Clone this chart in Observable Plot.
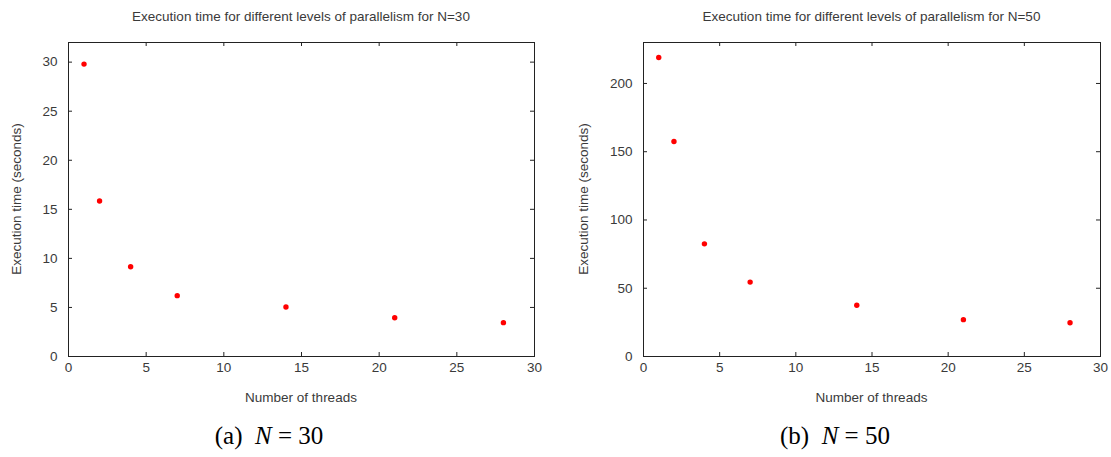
<!DOCTYPE html>
<html>
<head>
<meta charset="utf-8">
<script src="https://cdn.jsdelivr.net/npm/d3@7"></script>
<script src="https://cdn.jsdelivr.net/npm/@observablehq/plot@0.6"></script>
<style>
  html, body { margin: 0; padding: 0; background: #fff; }
  #root { position: relative; width: 1111px; height: 457px; overflow: hidden; font-family: "Liberation Sans", Arial, sans-serif; color: #3a3a3a; }
  .abs { position: absolute; white-space: nowrap; }
  .title, .xlab { font-size: 13.5px; transform: translate(-50%, -50%); }
  .ylab { font-size: 13.5px; transform: translate(-50%, -50%) rotate(-90deg); }
  .cap { font-family: "Liberation Serif", "DejaVu Serif", serif; font-size: 25px; color: #000; transform: translate(-50%, -50%); }
  .cap i { font-style: italic; }
  svg { position: absolute; top: 0; }
</style>
</head>
<body>
<div id="root"></div>
<script>
// ---- data ----
const threads = [1, 2, 4, 7, 14, 21, 28];
const timesN30 = [29.8, 15.85, 9.15, 6.2, 5.05, 3.95, 3.45];
const timesN50 = [219, 157.5, 82.5, 54.5, 37.5, 27, 24.7];
const xTicks = [0, 5, 10, 15, 20, 25, 30];
const yTicksN30 = [0, 5, 10, 15, 20, 25, 30];
const yTicksN50 = [0, 50, 100, 150, 200];

const titles = ["Execution time for different levels of parallelism for N=30",
                "Execution time for different levels of parallelism for N=50"];
const xLabel = "Number of threads";
const yLabel = "Execution time (seconds)";

const root = document.getElementById("root");

function panel({left, width, marginLeft, marginRight, times, yMax, yTicks, title, caption, captionX, yLabelOffset}) {
  const height = 400, marginTop = 42, marginBottom = 44;
  const fw = width - marginLeft - marginRight;
  const fh = height - marginTop - marginBottom;
  const data = threads.map((t, i) => ({t, v: times[i]}));
  const tick = 4;
  const chart = Plot.plot({
    width, height, marginLeft, marginRight, marginTop, marginBottom,
    style: {color: "#3a3a3a", fontFamily: "'Liberation Sans', Arial, sans-serif", fontSize: "13.5px", background: "transparent"},
    x: {domain: [0, 30]},
    y: {domain: [0, yMax]},
    marks: [
      Plot.axisX(xTicks, {tickSize: 0, tickPadding: 6, label: null, fontSize: 13.5}),
      Plot.axisY(yTicks, {tickSize: 0, tickPadding: 11, label: null, fontSize: 13.5}),
      Plot.tickX(xTicks, {x: d => d, insetTop: fh - tick, stroke: "#222"}),
      Plot.tickX(xTicks, {x: d => d, insetBottom: fh - tick, stroke: "#222"}),
      Plot.tickY(yTicks, {y: d => d, insetRight: fw - tick, stroke: "#222"}),
      Plot.tickY(yTicks, {y: d => d, insetLeft: fw - tick, stroke: "#222"}),
      Plot.frame({stroke: "#222"}),
      Plot.dot(data, {x: "t", y: "v", r: 2.7, fill: "#ff0000", stroke: null})
    ]
  });
  chart.style.left = left + "px";
  root.appendChild(chart);
  const cx = left + marginLeft + fw / 2;
  const t = document.createElement("div");
  t.className = "abs title"; t.style.left = cx + "px"; t.style.top = "16px"; t.textContent = title;
  root.appendChild(t);
  const xl = document.createElement("div");
  xl.className = "abs xlab"; xl.style.left = cx + "px"; xl.style.top = "397px"; xl.textContent = xLabel;
  root.appendChild(xl);
  const yl = document.createElement("div");
  yl.className = "abs ylab"; yl.style.left = (left + marginLeft - yLabelOffset) + "px"; yl.style.top = (marginTop + fh / 2) + "px"; yl.textContent = yLabel;
  root.appendChild(yl);
  const c = document.createElement("div");
  c.className = "abs cap"; c.style.left = captionX + "px"; c.style.top = "436px";
  c.innerHTML = caption;
  root.appendChild(c);
}

panel({left: 0, width: 555, marginLeft: 68, marginRight: 21, times: timesN30, yMax: 32, yTicks: yTicksN30,
       title: titles[0], caption: "(a)&nbsp;&nbsp;<i>N</i> = 30", captionX: 269, yLabelOffset: 52});
panel({left: 555, width: 556, marginLeft: 88, marginRight: 11, times: timesN50, yMax: 230, yTicks: yTicksN50,
       title: titles[1], caption: "(b)&nbsp;&nbsp;<i>N</i> = 50", captionX: 835, yLabelOffset: 60});
</script>
</body>
</html>
